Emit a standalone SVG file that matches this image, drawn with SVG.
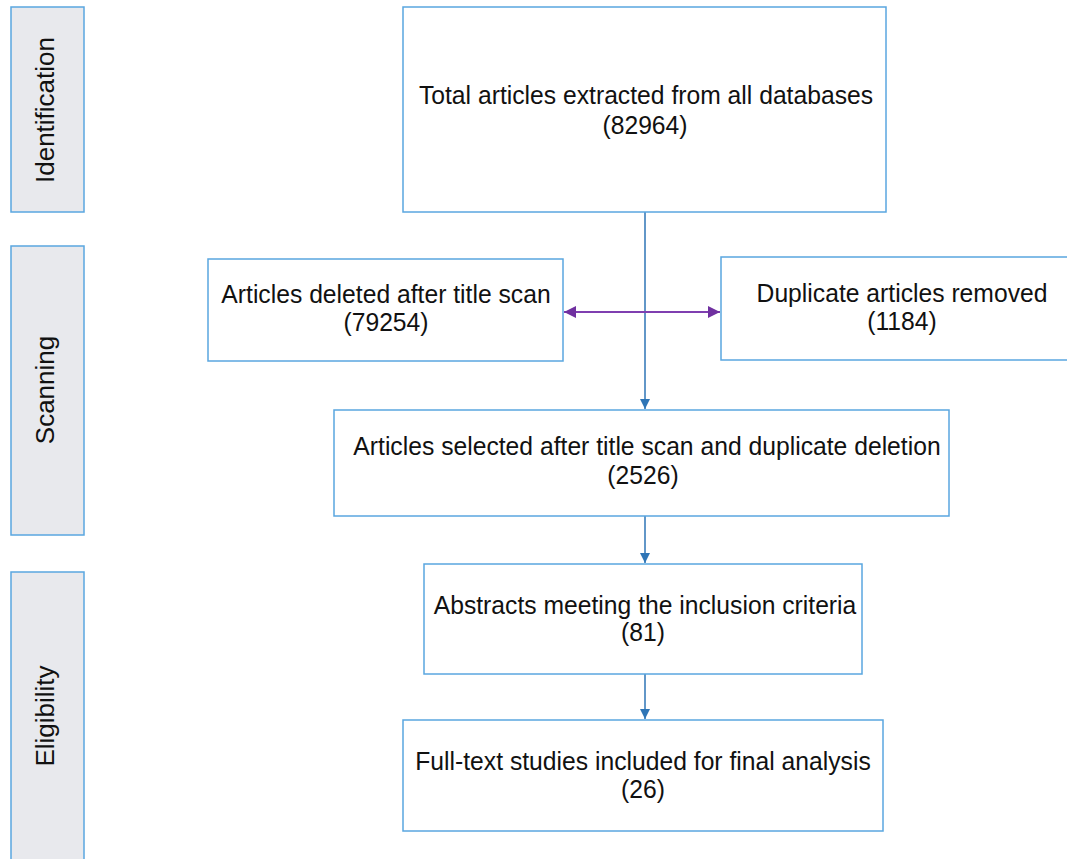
<svg xmlns="http://www.w3.org/2000/svg" width="1067" height="859" viewBox="0 0 1067 859">
<style>
.box{fill:#ffffff;stroke:#5AA6E0;stroke-width:1.5}
.bar{fill:#E8E9ED;stroke:#5AA6E0;stroke-width:1.5}
.t{font-family:"Liberation Sans",Arial,sans-serif;font-size:26px;fill:#111111;text-anchor:middle}
.lbl{font-family:"Liberation Sans",Arial,sans-serif;font-size:26px;fill:#111111;text-anchor:middle}
.c{fill:none;stroke:#2E75B6;stroke-width:1.5}
.p{fill:none;stroke:#7F3FB0;stroke-width:2}
</style>
<defs>
<marker id="ab" viewBox="0 0 10 10" refX="10" refY="5" markerWidth="10" markerHeight="10" markerUnits="userSpaceOnUse" orient="auto"><path d="M0,0 L10,5 L0,10 z" fill="#2E75B6"/></marker>
<marker id="ap" viewBox="0 0 12 12" refX="12" refY="6" markerWidth="12" markerHeight="12" markerUnits="userSpaceOnUse" orient="auto-start-reverse"><path d="M0,0 L12,6 L0,12 z" fill="#7030A0"/></marker>
</defs>
<rect width="1067" height="859" fill="#ffffff"/>
<g id="stage-identification"><rect class="bar" x="11" y="7" width="73" height="205"/><text class="lbl" transform="translate(54,110) rotate(-90)">Identification</text></g>
<g id="stage-scanning"><rect class="bar" x="11" y="246" width="73" height="289"/><text class="lbl" transform="translate(54,390) rotate(-90)">Scanning</text></g>
<g id="stage-eligibility"><rect class="bar" x="11" y="572" width="73" height="300"/><text class="lbl" transform="translate(54,716) rotate(-90)">Eligibility</text></g>
<g id="connectors">
<line class="c" x1="645" y1="212" x2="645" y2="409" marker-end="url(#ab)"/>
<line class="p" x1="564" y1="312" x2="720" y2="312" marker-start="url(#ap)" marker-end="url(#ap)"/>
<line class="c" x1="645" y1="516" x2="645" y2="563" marker-end="url(#ab)"/>
<line class="c" x1="645" y1="674" x2="645" y2="719" marker-end="url(#ab)"/>
</g>
<g id="n-total"><rect class="box" x="403" y="7" width="483" height="205"/><text class="t" transform="translate(646,104) scale(0.95,1)">Total articles extracted from all databases</text><text class="t" transform="translate(645,134) scale(0.95,1)">(82964)</text></g>
<g id="n-deleted"><rect class="box" x="208" y="259" width="355" height="102"/><text class="t" transform="translate(386,303) scale(0.95,1)">Articles deleted after title scan</text><text class="t" transform="translate(386,331) scale(0.95,1)">(79254)</text></g>
<g id="n-duplicate"><rect class="box" x="721" y="257" width="362" height="103"/><text class="t" transform="translate(902,302) scale(0.95,1)">Duplicate articles removed</text><text class="t" transform="translate(902,330) scale(0.95,1)">(1184)</text></g>
<g id="n-selected"><rect class="box" x="334" y="410" width="615" height="106"/><text class="t" transform="translate(647,455) scale(0.95,1)">Articles selected after title scan and duplicate deletion</text><text class="t" transform="translate(643,484) scale(0.95,1)">(2526)</text></g>
<g id="n-abstracts"><rect class="box" x="424" y="564" width="438" height="110"/><text class="t" transform="translate(645,614) scale(0.95,1)">Abstracts meeting the inclusion criteria</text><text class="t" transform="translate(643,641) scale(0.95,1)">(81)</text></g>
<g id="n-fulltext"><rect class="box" x="403" y="720" width="480" height="111"/><text class="t" transform="translate(643,770) scale(0.95,1)">Full-text studies included for final analysis</text><text class="t" transform="translate(643,798) scale(0.95,1)">(26)</text></g>
</svg>
